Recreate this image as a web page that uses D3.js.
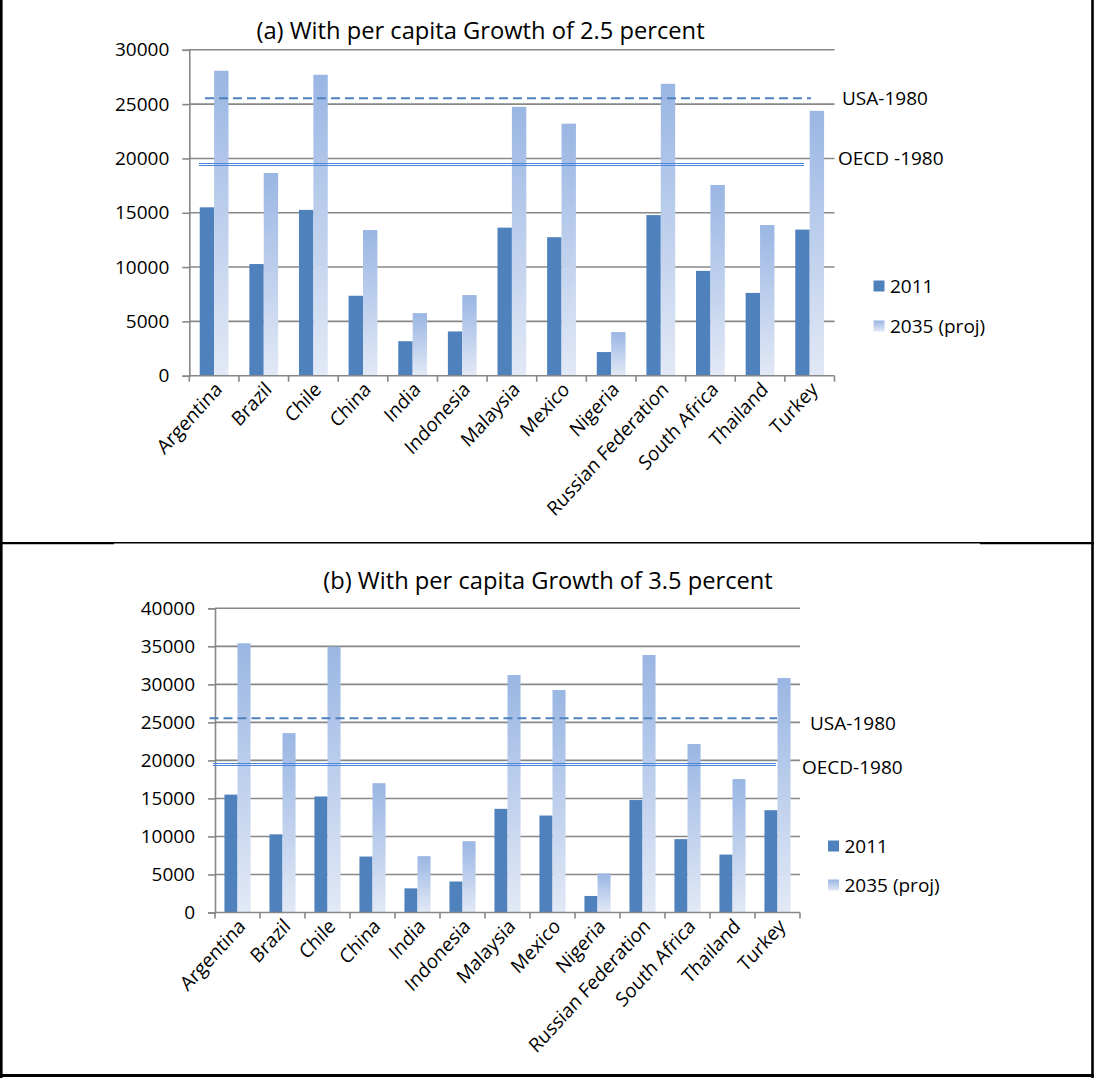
<!DOCTYPE html>
<html>
<head>
<meta charset="utf-8">
<script src="https://cdn.jsdelivr.net/npm/d3@7"></script>
<style>
  html, body { margin: 0; padding: 0; background: #fff; }
  svg { display: block; }
  text { font-family: "Open Sans", Lato, "Liberation Sans", sans-serif; fill: #000; }
</style>
</head>
<body>
<svg id="fig" width="1094" height="1078"></svg>
<script>
// GDP per capita by country: 2011 level and 2035 projections
const countries = ["Argentina", "Brazil", "Chile", "China", "India", "Indonesia", "Malaysia",
  "Mexico", "Nigeria", "Russian Federation", "South Africa", "Thailand", "Turkey"];
const gdp2011 = [15500, 10280, 15260, 7360, 3175, 4075, 13630, 12750, 2175, 14785, 9650, 7620, 13450];
const proj2035g25 = [28070, 18660, 27700, 13410, 5760, 7420, 24750, 23200, 4010, 26870, 17560, 13870, 24380];
const proj2035g35 = [35400, 23590, 34950, 17010, 7410, 9380, 31220, 29250, 5130, 33860, 22150, 17540, 30830];
const seriesNames = ["2011", "2035 (proj)"];
const usa1980 = 25550;
const oecd1980 = 19400;
const ticksA = [0, 5000, 10000, 15000, 20000, 25000, 30000];
const ticksB = [0, 5000, 10000, 15000, 20000, 25000, 30000, 35000, 40000];

const svg = d3.select("#fig");
const defs = svg.append("defs");

// vertical fade used by the projected bars
const grad = defs.append("linearGradient")
  .attr("id", "projFill").attr("x1", 0).attr("y1", 0).attr("x2", 0).attr("y2", 1);
grad.append("stop").attr("offset", "0%").attr("stop-color", "#9ab6e3");
grad.append("stop").attr("offset", "100%").attr("stop-color", "#e2e9f6");

const BAR2011 = "#4f81bd";
const GRID = "#878787";
const LINE = "#4f81bd";
const FS = 19;

// outer frame of the two stacked panels
const frame = svg.append("g");
frame.append("line").attr("x1", 1.3).attr("x2", 1.3).attr("y1", 0).attr("y2", 1078)
  .attr("stroke", "#000").attr("stroke-width", 2.6);
frame.append("line").attr("x1", 1092.5).attr("x2", 1092.5).attr("y1", 0).attr("y2", 1078)
  .attr("stroke", "#000").attr("stroke-width", 2.6);
frame.append("line").attr("x1", 0).attr("x2", 1094).attr("y1", 1075.5).attr("y2", 1075.5)
  .attr("stroke", "#000").attr("stroke-width", 3);
frame.append("line").attr("x1", 0).attr("x2", 1094).attr("y1", 542.8).attr("y2", 542.8)
  .attr("stroke", "#000").attr("stroke-width", 1.4);
frame.append("line").attr("x1", 0).attr("x2", 114).attr("y1", 543.2).attr("y2", 543.2)
  .attr("stroke", "#000").attr("stroke-width", 2.2);
frame.append("line").attr("x1", 980).attr("x2", 1094).attr("y1", 543.2).attr("y2", 543.2)
  .attr("stroke", "#000").attr("stroke-width", 2.2);

function drawPanel(p) {
  const g = svg.append("g");
  const x0 = d3.scaleBand().domain(countries).range([p.left, p.right])
    .paddingInner(0.42).paddingOuter(0.21);
  const x1 = d3.scaleBand().domain(seriesNames).range([0, x0.bandwidth()]);
  const y = d3.scaleLinear().domain([0, p.yMax]).range([p.bottom, p.top]);
  const step = (p.right - p.left) / countries.length;

  // horizontal gridlines
  g.append("g").selectAll("line").data(p.ticks.filter(t => t > 0)).join("line")
    .attr("x1", p.left).attr("x2", p.right)
    .attr("y1", d => y(d)).attr("y2", d => y(d))
    .attr("stroke", GRID).attr("stroke-width", 1.6);

  // value axis
  const yAxis = d3.axisLeft(y).tickValues(p.ticks).tickSize(7).tickPadding(13)
    .tickFormat(d3.format("d"));
  const ya = g.append("g").attr("transform", `translate(${p.left},0)`).call(yAxis);
  ya.select(".domain").attr("stroke", GRID).attr("stroke-width", 1.6);
  ya.selectAll(".tick line").attr("stroke", GRID).attr("stroke-width", 1.6);
  ya.selectAll(".tick text").attr("font-size", FS).attr("font-family", "Open Sans").attr("fill", "#000");

  // bars
  const groups = g.append("g").selectAll("g").data(countries).join("g")
    .attr("transform", c => `translate(${x0(c)},0)`);
  groups.append("rect")
    .attr("x", x1("2011")).attr("width", x1.bandwidth())
    .attr("y", (c, i) => y(gdp2011[i]))
    .attr("height", (c, i) => y(0) - y(gdp2011[i]))
    .attr("fill", BAR2011);
  groups.append("rect")
    .attr("x", x1("2035 (proj)")).attr("width", x1.bandwidth())
    .attr("y", (c, i) => y(p.proj[i]))
    .attr("height", (c, i) => y(0) - y(p.proj[i]))
    .attr("fill", "url(#projFill)");

  // category axis with boundary ticks
  g.append("line").attr("x1", p.left).attr("x2", p.right)
    .attr("y1", y(0)).attr("y2", y(0)).attr("stroke", GRID).attr("stroke-width", 1.6);
  g.append("g").selectAll("line").data(d3.range(countries.length + 1)).join("line")
    .attr("x1", i => p.left + i * step).attr("x2", i => p.left + i * step)
    .attr("y1", y(0)).attr("y2", y(0) + 6)
    .attr("stroke", GRID).attr("stroke-width", 1.6);
  // slanted category names (slightly stretched vertically, steeper than 45 degrees)
  g.append("g").selectAll("text").data(countries).join("text")
    .attr("transform", c => `translate(${x0(c) + x0.bandwidth() / 2 + 9},${y(0) + 15}) scale(1,1.1) rotate(-45)`)
    .attr("text-anchor", "end")
    .attr("font-size", 18.3)
    .text(c => c);

  // benchmark lines
  g.append("line").attr("x1", p.usaX[0]).attr("x2", p.usaX[1])
    .attr("y1", y(usa1980)).attr("y2", y(usa1980))
    .attr("stroke", LINE).attr("stroke-width", 2).attr("stroke-dasharray", "9,5");
  const oy = Math.round(y(oecd1980));
  [oy - 1.5, oy + 0.5].forEach(yy => {
    g.append("line").attr("x1", p.oecdX[0]).attr("x2", p.oecdX[1])
      .attr("y1", yy).attr("y2", yy)
      .attr("stroke", "#4a85dc").attr("stroke-width", 1.2);
  });
  g.append("text").attr("x", p.usaLabel[0]).attr("y", y(usa1980) + p.usaLabel[1])
    .attr("dy", "0.35em").attr("font-size", FS).text("USA-1980");
  g.append("text").attr("x", p.oecdLabel[0]).attr("y", y(oecd1980) + p.oecdLabel[1])
    .attr("dy", "0.35em").attr("font-size", FS).text(p.oecdText);

  // title
  g.append("text").attr("x", p.titleX).attr("y", p.titleY)
    .attr("text-anchor", "middle").attr("font-size", 23.7).text(p.title);

  // legend
  const leg = g.append("g").selectAll("g").data(seriesNames).join("g")
    .attr("transform", (d, i) => `translate(${p.legX},${p.legY + i * p.legGap})`);
  leg.append("rect").attr("x", 0).attr("y", -5.5).attr("width", 11).attr("height", 11)
    .attr("fill", (d, i) => i === 0 ? BAR2011 : "url(#projFill)");
  leg.append("text").attr("x", 16.5).attr("y", 0).attr("dy", "0.35em")
    .attr("font-size", FS).text(d => d);
}

drawPanel({
  left: 189.3, right: 834.5, top: 49.8, bottom: 375.7, yMax: 30000, ticks: ticksA,
  proj: proj2035g25,
  usaX: [205, 811], oecdX: [199, 804],
  usaLabel: [842, 0], oecdLabel: [838, -7], oecdText: "OECD -1980",
  title: "(a) With per capita Growth of 2.5 percent", titleX: 480.5, titleY: 39,
  legX: 873.5, legY: 286, legGap: 40
});

drawPanel({
  left: 215, right: 800, top: 608.3, bottom: 912.5, yMax: 40000, ticks: ticksB,
  proj: proj2035g35,
  usaX: [209.5, 777], oecdX: [213, 776],
  usaLabel: [810, 5], oecdLabel: [802, 2], oecdText: "OECD-1980",
  title: "(b) With per capita Growth of 3.5 percent", titleX: 548, titleY: 589,
  legX: 828, legY: 846, legGap: 39
});
</script>
</body>
</html>
